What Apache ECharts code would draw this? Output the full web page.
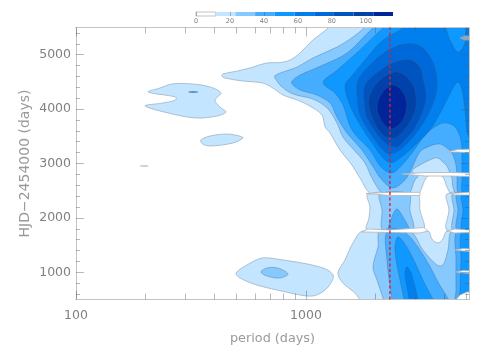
<!DOCTYPE html>
<html>
<head>
<meta charset="utf-8">
<style>
  html, body { margin: 0; padding: 0; background: #fff; }
  #chart { width: 491px; height: 354px; }
</style>
</head>
<body>
<div id="chart"></div>
<script src="https://cdn.jsdelivr.net/npm/echarts@6/dist/echarts.min.js"></script>
<script>
// tick lists
const xMajorTicks = [100, 1000]
const xMinorTicks = [200, 300, 400, 500, 600, 700, 800, 900, 2000, 3000, 4000, 5000]
const yMajorTicks = [1000, 2000, 3000, 4000, 5000]
const yMinorTicks = [600, 800, 1200, 1400, 1600, 1800, 2200, 2400, 2600, 2800, 3200, 3400, 3600, 3800, 4200, 4400, 4600, 4800, 5200, 5400]
const barTicks = [0, 20, 40, 60, 80, 100]
const barEdges = [0, 11.6, 23.2, 34.8, 46.4, 58, 69.6, 81.2, 92.8, 104.4, 116]
const barColors = ['#ffffff', '#c4e5ff', '#85c9ff', '#45adff', '#0f98ff', '#0080ee', '#0069d9', '#0054c0', '#0041aa', '#00249a']
const levelColors = ['#c4e5ff', '#85c9ff', '#45adff', '#0f98ff', '#0080ee', '#0069d9', '#0054c0', '#0041aa', '#00249a']
const bestPeriod = 2319

// contours, [period, HJD]
const upper1 = [[1337,5640],[1237,5472],[1071,5270],[943,5031],[854,4902],[771,4856],[675,4847],[570,4755],[504,4700],[435,4645],[431,4608],[444,4571],[533,4516],[649,4479],[718,4388],[795,4259],[916,4167],[1040,4057],[1175,3891],[1212,3671],[1274,3560],[1406,3248],[1586,2972],[1718,2733],[1937,2439],[3040,2439],[3293,2697],[3394,2770],[3677,2807],[3944,2752],[4106,2568],[4317,2439],[5600,2439],[5600,5640]]
const upper2 = [[1996,5640],[1770,5472],[1602,5325],[1364,5141],[1071,4939],[916,4774],[795,4682],[733,4617],[733,4571],[787,4406],[880,4277],[1071,4185],[1237,4020],[1364,3744],[1449,3487],[1618,3248],[1806,3009],[1957,2697],[2185,2439],[2777,2439],[2979,2697],[3070,2770],[2891,2862],[3132,2972],[3532,3083],[3751,3101],[3944,3027],[4106,2954],[4231,2825],[4317,2733],[4360,2568],[4539,2439],[5600,2439],[5600,5640]]
const upper3 = [[2207,5640],[1937,5472],[1509,5031],[1188,4810],[943,4626],[871,4516],[871,4461],[943,4351],[1115,4259],[1274,4112],[1364,3855],[1509,3560],[1753,3248],[1937,2972],[2142,2697],[2390,2550],[2695,2697],[2891,2917],[3132,3211],[3462,3322],[3827,3358],[4106,3285],[4317,3193],[4494,2972],[4539,2733],[4631,2439],[5600,2439],[5600,5640]]
const upper4 = [[2438,5640],[2142,5472],[1718,5086],[1337,4682],[1200,4535],[1200,4443],[1337,4296],[1449,4075],[1586,3616],[1899,3248],[2120,2936],[2366,2825],[2617,2972],[2891,3193],[3360,3560],[3827,3725],[4106,3744],[4449,3671],[4724,3432],[4772,3064],[4772,2733],[4820,2439],[5600,2439],[5600,5640]]
const upper5 = [[2864,5640],[2642,5488],[2163,5270],[1806,4902],[1555,4571],[1479,4443],[1509,4222],[1586,3983],[1753,3652],[2037,3248],[2207,3064],[2366,3009],[2564,3101],[2834,3248],[3462,3616],[3944,4020],[4317,4351],[4585,4498],[4772,4351],[4917,3983],[5066,3524],[5600,3248],[5600,5640],[5016,5640],[4917,5215],[4585,5049],[4231,5270],[3866,5640]]
const upper6 = [[2979,5196],[3293,5086],[3568,4865],[3714,4571],[3677,4259],[3394,3891],[2979,3524],[2564,3248],[2319,3174],[2163,3248],[1899,3560],[1718,3891],[1667,4259],[1684,4535],[1899,4810],[2207,5049],[2564,5178]]
const upper7 = [[2834,4902],[3132,4774],[3228,4571],[3327,4167],[2979,3652],[2695,3432],[2488,3303],[2207,3377],[1843,3836],[1788,4167],[1806,4443],[2057,4682],[2438,4865]]
const upper8 = [[2513,4682],[2920,4443],[3009,4038],[2777,3707],[2438,3469],[2163,3524],[1937,3855],[1880,4204],[2099,4535]]
const upper9 = [[2390,4443],[2642,4314],[2750,4075],[2642,3799],[2366,3634],[2163,3744],[2037,4020],[2142,4296]]

const middle1 = [[1861,2439],[1899,2200],[1880,1998],[1843,1778],[3228,1778],[3132,2145],[3040,2439]]
const middle2 = [[2099,2439],[2142,2145],[2163,1778],[2920,1778],[2834,2145],[2805,2439]]
const middle3 = [[2488,2163],[2366,2017],[2296,1759],[2805,1759],[2642,2017]]
const side1 = [[4106,2439],[4189,2145],[4106,1778],[5600,1778],[5600,2439]]
const side2 = [[4360,2439],[4405,2145],[4360,1778],[5600,1778],[5600,2439]]
const side3 = [[4539,2439],[4585,2145],[4539,1778],[5600,1778],[5600,2439]]
const side4 = [[4772,2439],[4820,2145],[4772,1778],[5600,1778],[5600,2439]]

const lower1 = [[1770,1759],[1602,1539],[1479,1226],[1378,987],[1449,803],[1634,620],[1899,307],[5600,307],[5600,1759],[4106,1759],[3944,1612],[3751,1539],[3532,1612],[3394,1759]]
const lower2 = [[2099,1759],[2057,1465],[1957,1098],[2037,859],[2163,528],[2251,307],[5600,307],[5600,1759],[4317,1759],[4147,1410],[3944,1134],[3714,1134],[3228,1410],[2834,1759]]
const lower3 = [[2251,1759],[2251,1226],[2366,510],[2414,307],[4231,307],[3714,859],[3132,1410],[2642,1759]]
const lower4 = [[2513,1649],[2438,1410],[2564,859],[2669,510],[2722,307],[3641,307],[3228,859],[2750,1465]]
const lower5 = [[2750,1098],[2695,950],[2777,638],[2891,307],[3101,307],[2891,950]]
const lowerSide3 = [[4539,1759],[4494,1226],[4494,675],[4494,307],[5600,307],[5600,1759]]
const lowerSide4 = [[4772,1759],[4724,1226],[4677,675],[4677,307],[5600,307],[5600,1759]]

const islandA = [[206,4314],[232,4388],[261,4461],[322,4461],[383,4406],[427,4296],[402,4167],[423,4038],[449,3946],[410,3873],[339,3836],[275,3891],[200,4057],[239,4112],[271,4167],[271,4222]]
const islandB = [[349,3432],[383,3505],[453,3542],[514,3505],[533,3469],[482,3377],[383,3322],[356,3358]]
const islandC = [[497,987],[554,1134],[643,1262],[748,1243],[1150,1098],[1313,950],[1249,730],[1115,583],[1009,565],[819,638],[611,767],[517,895]]
const islandCInner = [[637,1006],[675,1079],[755,1079],[836,969],[771,895],[675,932]]
const dashDark = [[309,4314],[322,4322],[339,4314],[322,4306]]
const dashGrey = [[190,2954],[200,2965],[206,2954],[200,2943]]

// white data gaps, drawn over the bands
const gapA1 = [[1825,2449],[2319,2470],[3132,2470],[3132,2412],[2319,2412]]
const gapA2 = [[4231,2449],[5274,2476],[5274,2421],[4449,2421]]
const gapB1 = [[1753,1741],[1861,1796],[2319,1778],[3260,1823],[3394,1759],[3132,1722],[2390,1731]]
const gapB2 = [[4106,1759],[4449,1796],[5274,1778],[5274,1731],[4449,1722]]
const sliver1 = [[4106,3211],[4585,3257],[5274,3266],[5274,3193],[4585,3211]]
const sliver2 = [[2615,2807],[3293,2834],[4231,2834],[5274,2825],[5274,2761],[4231,2770],[3293,2770]]
const sliver3 = [[4449,1410],[4820,1437],[5274,1428],[5274,1382],[4820,1392]]
const sliver4 = [[4494,1006],[4820,1033],[5274,1024],[5274,978],[4820,987]]
const sliverTop = [[4677,5307],[4917,5343],[5274,5343],[5274,5270],[4917,5270]]
const cornerBlob = [[4494,490],[4677,583],[5016,638],[5274,638],[5274,399],[4494,399]]

const lineSoft = 'rgba(70,90,120,0.42)'
const lineLight = '#9db2c4'
const lineGap = '#b4b4b4'

function shape (points, level) {
  return { points, color: levelColors[level - 1], stroke: level === 1 ? lineLight : lineSoft, smooth: 0.33 }
}
function gap (points) {
  return { points, color: '#ffffff', stroke: lineGap, smooth: 0 }
}

const shapes = [
  shape(islandA, 1), shape(islandB, 1), shape(islandC, 1), shape(islandCInner, 2),
  shape(dashDark, 5),
  { points: dashGrey, color: '#c8c8c8', stroke: '#c8c8c8', smooth: 0 },
  shape(upper1, 1), shape(middle1, 1), shape(side1, 1), shape(lower1, 1),
  shape(upper2, 2), shape(middle2, 2), shape(side2, 2), shape(lower2, 2),
  shape(upper3, 3), shape(middle3, 3), shape(side3, 3), shape(lower3, 3), shape(lowerSide3, 3),
  shape(upper4, 4), shape(side4, 4), shape(lower4, 4), shape(lowerSide4, 4),
  shape(upper5, 5), shape(lower5, 5),
  shape(upper6, 6), shape(upper7, 7), shape(upper8, 8), shape(upper9, 9),
  gap(gapA1), gap(gapA2), gap(gapB1), gap(gapB2),
  gap(sliver1), gap(sliver2), gap(sliver3), gap(sliver4),
  gap(cornerBlob),
  { points: sliverTop, color: '#92a6b8', stroke: '#92a6b8', smooth: 0 }
]

const textGrey = '#808080'
const axisGrey = '#c4c4c4'
const tickGrey = 'rgba(70,90,115,0.42)'
const font = 'DejaVu Sans'

function tickAxis (position, values, len, withLabels) {
  return {
    type: 'log',
    logBase: 10,
    min: 100,
    max: 5120,
    gridIndex: 0,
    position,
    z: 6,
    axisLine: { show: true, onZero: false, lineStyle: { color: axisGrey, width: 1 } },
    axisTick: { show: true, inside: true, length: len, customValues: values, lineStyle: { color: tickGrey, width: 1 } },
    axisLabel: withLabels
      ? { show: true, customValues: values, color: textGrey, fontFamily: font, fontSize: 12.5, margin: 10, formatter: v => String(v) }
      : { show: false },
    splitLine: { show: false }
  }
}
function valueTickAxis (position, values, len, withLabels) {
  return {
    type: 'value',
    min: 500,
    max: 5500,
    gridIndex: 0,
    position,
    z: 6,
    axisLine: { show: true, onZero: false, lineStyle: { color: axisGrey, width: 1 } },
    axisTick: { show: true, inside: true, length: len, customValues: values, lineStyle: { color: tickGrey, width: 1 } },
    axisLabel: withLabels
      ? { show: true, customValues: values, color: textGrey, fontFamily: font, fontSize: 12.5, margin: 5, formatter: v => String(v) }
      : { show: false },
    splitLine: { show: false }
  }
}

const dom = echarts.init(document.getElementById('chart'), null, { renderer: 'canvas' })
const xBottom = tickAxis('bottom', xMajorTicks, 9, true)
xBottom.name = 'period (days)'
xBottom.nameLocation = 'middle'
xBottom.nameGap = 33
xBottom.nameMoveOverlap = false
xBottom.nameTextStyle = { color: '#9a9a9a', fontFamily: font, fontSize: 12.8 }
const yLeft = valueTickAxis('left', yMajorTicks, 8, true)
yLeft.name = 'HJD\u22122454000 (days)'
yLeft.nameLocation = 'middle'
yLeft.nameGap = 44
yLeft.nameMoveOverlap = false
yLeft.nameTextStyle = { color: '#9a9a9a', fontFamily: font, fontSize: 14 }

dom.setOption({
  animation: false,
  backgroundColor: '#ffffff',
  grid: [
    { left: 76, right: 22, top: 27.5, bottom: 54.5 },
    { left: 196, right: 98, top: 12, height: 4 }
  ],
  xAxis: [
    xBottom,
    tickAxis('top', xMajorTicks, 9, false),
    tickAxis('bottom', xMinorTicks, 6, false),
    tickAxis('top', xMinorTicks, 6, false),
    {
      type: 'value',
      gridIndex: 1,
      min: 0,
      max: 116,
      interval: 20,
      position: 'bottom',
      z: 6,
      axisLine: { show: false },
      axisTick: { show: true, inside: true, length: 4, customValues: barTicks, lineStyle: { color: tickGrey, width: 1 } },
      axisLabel: { color: textGrey, fontFamily: font, fontSize: 6.5, margin: 2, customValues: barTicks },
      splitLine: { show: false }
    }
  ],
  yAxis: [
    yLeft,
    valueTickAxis('right', yMajorTicks, 8, false),
    valueTickAxis('left', yMinorTicks, 4, false),
    valueTickAxis('right', yMinorTicks, 4, false),
    {
      type: 'value',
      gridIndex: 1,
      min: 0,
      max: 1,
      show: false
    }
  ],
  series: [
    {
      type: 'custom',
      xAxisIndex: 0,
      yAxisIndex: 0,
      clip: true,
      z: 3,
      silent: true,
      encode: { x: 0, y: 1 },
      data: shapes.map((s, i) => [s.points[0][0], s.points[0][1], i]),
      renderItem (params, api) {
        const s = shapes[api.value(2)]
        return {
          type: 'polygon',
          shape: { points: s.points.map(p => api.coord(p)), smooth: s.smooth },
          style: { fill: s.color, stroke: s.stroke, lineWidth: 0.8 }
        }
      }
    },
    {
      type: 'line',
      xAxisIndex: 0,
      yAxisIndex: 0,
      z: 8,
      silent: true,
      symbol: 'none',
      data: [[bestPeriod, 500], [bestPeriod, 5500]],
      lineStyle: { color: '#e0202a', width: 1.4, type: [3, 2.5] }
    },
    {
      type: 'custom',
      xAxisIndex: 4,
      yAxisIndex: 4,
      z: 3,
      silent: true,
      encode: { x: [0, 1] },
      data: barColors.map((c, i) => [barEdges[i], barEdges[i + 1], i]),
      renderItem (params, api) {
        const a = api.coord([api.value(0), 1])
        const b = api.coord([api.value(1), 0])
        return {
          type: 'rect',
          shape: { x: a[0], y: a[1], width: b[0] - a[0], height: b[1] - a[1] },
          style: { fill: barColors[api.value(2)], stroke: api.value(2) === 0 ? '#aaaaaa' : null, lineWidth: 0.7 }
        }
      }
    }
  ]
})
</script>
</body>
</html>
